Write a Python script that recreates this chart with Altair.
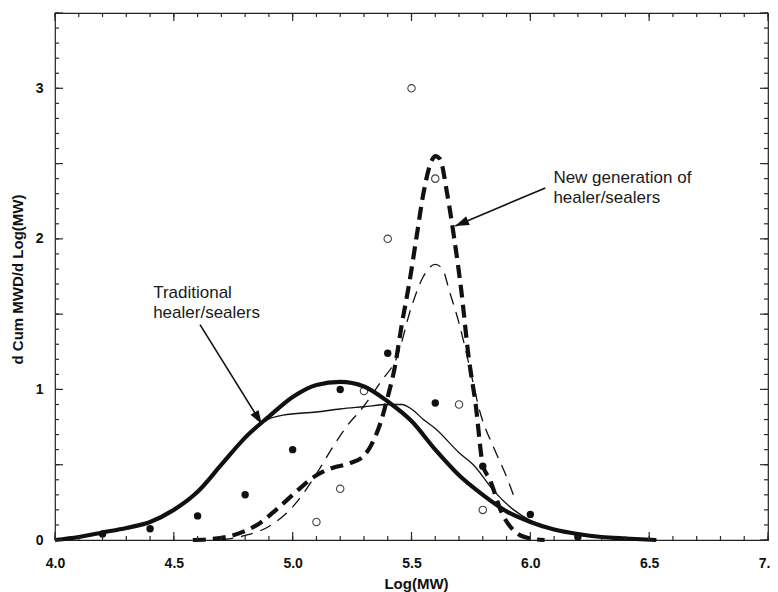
import math
import altair as alt
import pandas as pd

# ---------------- data ----------------
trad_model_x = [4.0, 4.1, 4.2, 4.3, 4.4, 4.5, 4.6, 4.7, 4.8, 4.9, 5.0, 5.1, 5.2, 5.3,
                5.4, 5.5, 5.6, 5.7, 5.8, 5.9, 6.0, 6.1, 6.2, 6.3, 6.4, 6.53]
trad_model_y = [0.0, 0.02, 0.05, 0.08, 0.12, 0.2, 0.32, 0.5, 0.68, 0.82, 0.95, 1.03, 1.05, 1.02,
                0.92, 0.79, 0.6, 0.43, 0.3, 0.19, 0.12, 0.07, 0.04, 0.02, 0.01, 0.0]

trad_fit_x = [4.0, 4.1, 4.2, 4.3, 4.4, 4.5, 4.6, 4.7, 4.8, 4.88, 4.96, 5.1, 5.2, 5.3, 5.4,
              5.46, 5.5, 5.55, 5.6, 5.7, 5.76, 5.85, 5.93, 6.0, 6.1, 6.2, 6.3, 6.4, 6.53]
trad_fit_y = [0.0, 0.02, 0.05, 0.08, 0.12, 0.2, 0.32, 0.5, 0.68, 0.79, 0.83, 0.85, 0.87, 0.885, 0.9,
              0.9, 0.87, 0.8, 0.74, 0.58, 0.5, 0.32, 0.2, 0.13, 0.07, 0.04, 0.02, 0.01, 0.0]

new_model_x = [4.58, 4.65, 4.72, 4.8, 4.86, 4.93, 5.0, 5.05, 5.1, 5.17, 5.24, 5.3, 5.34, 5.37,
               5.4, 5.43, 5.46, 5.49, 5.52, 5.55, 5.58, 5.6, 5.62, 5.65, 5.68, 5.71, 5.74,
               5.77, 5.8, 5.83, 5.88, 5.94, 6.0, 6.06]
new_model_y = [0.0, 0.005, 0.02, 0.06, 0.11, 0.2, 0.3, 0.37, 0.43, 0.48, 0.51, 0.56, 0.66, 0.78,
               0.95, 1.15, 1.44, 1.7, 2.0, 2.3, 2.5, 2.55, 2.53, 2.3, 2.0, 1.65, 1.22,
               0.9, 0.5, 0.4, 0.18, 0.05, 0.01, 0.0]

new_fit_x = [4.7, 4.8, 4.9, 5.0, 5.05, 5.1, 5.17, 5.23, 5.3, 5.37, 5.44, 5.5, 5.55, 5.6,
             5.63, 5.66, 5.7, 5.74, 5.79, 5.85, 5.9, 5.94]
new_fit_y = [0.0, 0.03, 0.09, 0.22, 0.32, 0.44, 0.62, 0.76, 0.89, 1.05, 1.22, 1.55, 1.75, 1.83,
             1.8, 1.65, 1.44, 1.18, 0.84, 0.6, 0.42, 0.25]

trad_pts_x = [4.2, 4.4, 4.6, 4.8, 5.0, 5.2, 5.4, 5.6, 5.8, 6.0, 6.2]
trad_pts_y = [0.04, 0.075, 0.16, 0.30, 0.60, 1.00, 1.24, 0.91, 0.49, 0.17, 0.02]

new_pts_x = [5.1, 5.2, 5.3, 5.4, 5.5, 5.6, 5.7, 5.8]
new_pts_y = [0.12, 0.34, 0.99, 2.0, 3.0, 2.4, 0.9, 0.2]

labels_text = ["Traditional\nhealer/sealers", "New generation of\nhealer/sealers"]
labels_x = [4.413, 6.097]
labels_y = [1.609, 2.371]

arrow_start_x = [4.61, 6.063]
arrow_start_y = [1.43, 2.338]
arrow_tip_x = [4.87, 5.684]
arrow_tip_y = [0.77, 2.086]

x_major = [4.0, 4.5, 5.0, 5.5, 6.0, 6.5, 7.0]
x_minor = [round(4.0 + 0.1 * i, 1) for i in range(31)]
y_labels = [0, 1, 2, 3]
y_major = [0, 0.5, 1.0, 1.5, 2.0, 2.5, 3.0, 3.5]
y_minor = [round(0.1 * i, 1) for i in range(36)]

# ---------------- layout ----------------
W, H = 713, 527
XD, YD = [4.0, 7.0], [0.0, 3.5]
FONT = "Liberation Sans"
INK = "#111111"
TICK = "#2a2a2a"

xs = alt.Scale(domain=XD, nice=False, zero=False)
ys = alt.Scale(domain=YD, nice=False, zero=False)

AX = alt.Axis(orient="bottom", values=x_major, format=".1f", labelFlush=False,
              labelOverlap=False, ticks=False, domain=False, grid=False,
              labelFont=FONT, labelFontWeight="bold", labelFontSize=14, labelColor=INK,
              labelPadding=16, title="Log(MW)", titleFont=FONT, titleFontSize=15,
              titleFontWeight="bold", titleColor=INK, titleX=361, titleY=48,
              titleBaseline="alphabetic", titleAlign="center")
AY = alt.Axis(orient="left", values=y_labels, format="d", ticks=False, domain=False,
              grid=False, labelFont=FONT, labelFontWeight="bold", labelFontSize=14,
              labelColor=INK, labelPadding=12, title="d Cum MWD/d Log(MW)",
              titleFont=FONT, titleFontSize=15, titleFontWeight="bold", titleColor=INK,
              titleAngle=270, titleX=-33, titleY=266, titleBaseline="alphabetic",
              titleAlign="center")


def df(xv, yv):
    return pd.DataFrame({"x": xv, "y": yv})


def enc(chart, **extra):
    return chart.encode(
        x=alt.X("x:Q", scale=xs, axis=AX),
        y=alt.Y("y:Q", scale=ys, axis=AY),
        **extra,
    )


def line(xv, yv, width, dash=None):
    kw = dict(interpolate="monotone", strokeWidth=width, color=INK, strokeCap="butt")
    if dash:
        kw["strokeDash"] = dash
    return enc(alt.Chart(df(xv, yv)).mark_line(**kw))


# inward tick marks: vertical ticks along the x edges, horizontal along the y edges
def xticks(vals, length, top):
    ypos = length / 2 if top else H - length / 2
    return alt.Chart(pd.DataFrame({"x": vals})).mark_tick(
        orient="vertical", color=TICK, thickness=1.2, size=length, opacity=1
    ).encode(x=alt.X("x:Q", scale=xs, axis=AX), y=alt.value(ypos))


def yticks(vals, length, right):
    xpos = W - length / 2 if right else length / 2
    return alt.Chart(pd.DataFrame({"y": vals})).mark_tick(
        orient="horizontal", color=TICK, thickness=1.2, size=length, opacity=1
    ).encode(y=alt.Y("y:Q", scale=ys, axis=AY), x=alt.value(xpos))


tick_layers = [
    xticks(x_minor, 4, False), xticks(x_major, 8, False),
    xticks(x_minor, 4, True), xticks(x_major, 8, True),
    yticks(y_minor, 4, False), yticks(y_major, 8, False),
    yticks(y_minor, 4, True), yticks(y_major, 8, True),
]

open_pts = enc(alt.Chart(df(new_pts_x, new_pts_y)).mark_point(
    shape="circle", filled=False, size=55, strokeWidth=1.1, color="#444444", opacity=1))
filled_pts = enc(alt.Chart(df(trad_pts_x, trad_pts_y)).mark_point(
    shape="circle", filled=True, size=55, color=INK, opacity=1))

l_trad_model = line(trad_model_x, trad_model_y, 4.2)
l_trad_fit = line(trad_fit_x, trad_fit_y, 1.3)
l_new_model = line(new_model_x, new_model_y, 4.2, [13, 7])
l_new_fit = line(new_fit_x, new_fit_y, 1.3, [12, 8])


def px(v):
    return (v - XD[0]) / (XD[1] - XD[0]) * W


def py(v):
    return H - (v - YD[0]) / (YD[1] - YD[0]) * H


shaft_rows = []
head_rows = []
for i in range(len(arrow_tip_x)):
    shaft_rows.append({"x": arrow_start_x[i], "y": arrow_start_y[i], "id": i, "o": 0})
    shaft_rows.append({"x": arrow_tip_x[i], "y": arrow_tip_y[i], "id": i, "o": 1})
    dx = px(arrow_tip_x[i]) - px(arrow_start_x[i])
    dy = py(arrow_tip_y[i]) - py(arrow_start_y[i])
    ang = math.degrees(math.atan2(dx, -dy)) % 360
    head_rows.append({"x": arrow_tip_x[i], "y": arrow_tip_y[i], "angle": ang})

shafts = enc(alt.Chart(pd.DataFrame(shaft_rows)).mark_line(strokeWidth=1.6, color=INK),
             detail="id:N", order="o:Q")
heads = enc(alt.Chart(pd.DataFrame(head_rows)).mark_point(
    shape="M0,0L-0.34,1L0.34,1Z", filled=True, size=760, color=INK, opacity=1),
    angle=alt.Angle("angle:Q", scale=None))

texts = enc(alt.Chart(pd.DataFrame({"x": labels_x, "y": labels_y, "t": labels_text})).mark_text(
    align="left", baseline="alphabetic", font=FONT, fontSize=17, lineBreak="\n",
    lineHeight=20, color="#1a1a1a"), text="t:N")

chart = alt.layer(
    open_pts, l_trad_model, l_trad_fit, l_new_fit, l_new_model, filled_pts,
    shafts, heads, texts, *tick_layers,
).properties(
    width=W, height=H,
    autosize=alt.AutoSizeParams(type="none"),
    padding={"left": 47, "top": 5, "right": 2, "bottom": 52},
    background="white",
).configure_view(
    stroke="#222222", strokeWidth=1.2
)

chart.save("out.html", embed_options={"renderer": "svg", "actions": False})
